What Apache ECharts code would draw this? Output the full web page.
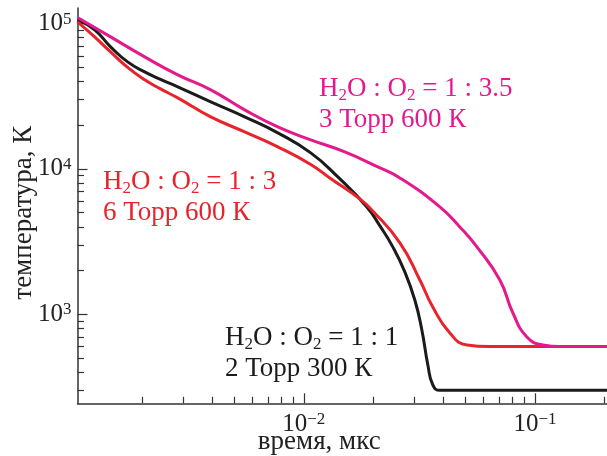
<!DOCTYPE html>
<html>
<head>
<meta charset="utf-8">
<script src="https://cdn.jsdelivr.net/npm/echarts@6/dist/echarts.min.js"></script>
<style>
  html, body { margin: 0; padding: 0; background: #fff; }
  #chart { width: 607px; height: 456px; }
</style>
</head>
<body>
<div id="chart"></div>
<script>
// время, мкс и температура, К для трёх смесей
const timeBlack = [1.05e-3, 1.245e-3, 1.46e-3, 1.73e-3, 2.05e-3, 2.4e-3, 2.85e-3, 3.96e-3, 5.55e-3, 7.72e-3, 0.01072, 0.01404, 0.01874, 0.02135, 0.02427, 0.02736, 0.03023, 0.03242, 0.03442, 0.03617, 0.03879, 0.05, 0.205]
const tempBlack = [106000, 90500, 69200, 54500, 46500, 41300, 36700, 28900, 22800, 17700, 12890, 8810, 5478, 4054, 2910, 1955, 1254, 780, 448, 326, 300, 300, 300]

const timeRed = [1.05e-3, 1.245e-3, 1.46e-3, 1.73e-3, 2.05e-3, 2.4e-3, 2.85e-3, 3.96e-3, 5.55e-3, 7.72e-3, 0.01072, 0.01296, 0.01747, 0.0197, 0.02605, 0.03178, 0.03614, 0.04285, 0.05077, 0.06383, 0.205]
const tempRed = [102700, 81000, 63800, 49950, 41000, 35530, 30800, 22800, 17980, 14170, 10740, 8670, 6218, 5222, 3100, 1720, 1122, 743, 615, 600, 600]

const timeMagenta = [1.05e-3, 1.46e-3, 2.05e-3, 2.85e-3, 3.96e-3, 5.55e-3, 7.72e-3, 0.01072, 0.01505, 0.0209, 0.02605, 0.03879, 0.04732, 0.05609, 0.07049, 0.0803, 0.0923, 0.1083, 0.1283, 0.205]
const tempMagenta = [110000, 81000, 59000, 44400, 35000, 25500, 19450, 15840, 13090, 10320, 8670, 5480, 3990, 2910, 1720, 1020, 698, 615, 600, 600]

// деления осей
const xMajorTicks = [0.01, 0.1]
const xMinorTicks = [0.002, 0.003, 0.004, 0.005, 0.006, 0.007, 0.008, 0.009,
    0.02, 0.03, 0.04, 0.05, 0.06, 0.07, 0.08, 0.09, 0.2]
const yMajorTicks = [1e3, 1e4, 1e5]
const yMinorTicks = [300, 400, 500, 600, 700, 800, 900,
    2000, 3000, 4000, 5000, 6000, 7000, 8000, 9000,
    20000, 30000, 40000, 50000, 60000, 70000, 80000, 90000]

const BLACK = '#1b1b1b'
const RED = '#e8232b'
const MAGENTA = '#e4198c'
const AXIS = '#333'
const FONT = "'Liberation Serif', 'DejaVu Serif', serif"

const zip = (xs, ys) => xs.map((x, i) => [x, ys[i]])

const powLabel = v => {
    const e = Math.round(Math.log10(v))
    return '{b|10}{s|' + String(e).replace('-', '\u2212') + '}'
}
const powRich = {
    b: { fontSize: 25, lineHeight: 26, fontFamily: FONT, color: '#222' },
    s: { fontSize: 17, fontFamily: FONT, color: '#222', verticalAlign: 'top' }
}

const noteRich = color => ({
    n: { fontSize: 27, lineHeight: 31, fontFamily: FONT, fill: color },
    u: { fontSize: 17, lineHeight: 14, fontFamily: FONT, fill: color, verticalAlign: 'bottom' }
})

const xMin = 1.05e-3, xMax = 0.205
const yMin = 244, yMax = 128000

const myChart = echarts.init(document.getElementById('chart'))

const option = {
    animation: false,
    grid: { left: 77.5, right: 0, top: 8, bottom: 52.7, outerBoundsMode: 'none' },
    xAxis: [{
        type: 'log', min: xMin, max: xMax,
        name: 'время, мкс', nameLocation: 'middle', nameGap: 25, nameMoveOverlap: false,
        nameTextStyle: { fontSize: 27, fontFamily: FONT, color: '#222', padding: [0, 46, 0, 0] },
        axisLine: { lineStyle: { color: AXIS, width: 1.5 } },
        axisTick: { inside: true, length: 10, lineStyle: { color: AXIS, width: 1.2 }, customValues: xMajorTicks },
        axisLabel: { margin: 8, customValues: xMajorTicks, formatter: powLabel, rich: powRich },
        splitLine: { show: false }
    }, {
        type: 'log', min: xMin, max: xMax, position: 'bottom',
        axisLine: { show: false },
        axisTick: { inside: true, length: 6.5, lineStyle: { color: AXIS, width: 1.2 }, customValues: xMinorTicks },
        axisLabel: { show: false },
        splitLine: { show: false }
    }],
    yAxis: [{
        type: 'log', min: yMin, max: yMax,
        name: 'температура, К', nameLocation: 'middle', nameGap: 40, nameMoveOverlap: false,
        nameTextStyle: { fontSize: 27, fontFamily: FONT, color: '#222', padding: [0, 14, 0, 0] },
        axisLine: { lineStyle: { color: AXIS, width: 1.5 } },
        axisTick: { inside: true, length: 10, lineStyle: { color: AXIS, width: 1.2 }, customValues: yMajorTicks },
        axisLabel: { margin: 6, customValues: yMajorTicks, formatter: powLabel, rich: powRich },
        splitLine: { show: false }
    }, {
        type: 'log', min: yMin, max: yMax, position: 'left',
        axisLine: { show: false },
        axisTick: { inside: true, length: 6.5, lineStyle: { color: AXIS, width: 1.2 }, customValues: yMinorTicks },
        axisLabel: { show: false },
        splitLine: { show: false }
    }],
    series: [
        { type: 'line', data: zip(timeBlack, tempBlack), color: BLACK },
        { type: 'line', data: zip(timeRed, tempRed), color: RED },
        { type: 'line', data: zip(timeMagenta, tempMagenta), color: MAGENTA }
    ].map(s => Object.assign(s, {
        showSymbol: false, symbol: 'none', smooth: 0.5,
        lineStyle: { width: 3, color: s.color }
    })),
    graphic: [
        {
            type: 'text', left: 319, top: 75,
            style: { text: '{n|H}{u|2}{n|O : O}{u|2}{n| = 1 : 3.5}\n{n|3 Торр 600 К}', rich: noteRich(MAGENTA), fill: MAGENTA }
        },
        {
            type: 'text', left: 103, top: 168,
            style: { text: '{n|H}{u|2}{n|O : O}{u|2}{n| = 1 : 3}\n{n|6 Торр 600 К}', rich: noteRich(RED), fill: RED }
        },
        {
            type: 'text', left: 225, top: 324,
            style: { text: '{n|H}{u|2}{n|O : O}{u|2}{n| = 1 : 1}\n{n|2 Торр 300 К}', rich: noteRich(BLACK), fill: BLACK }
        }
    ]
}

myChart.setOption(option)
</script>
</body>
</html>
